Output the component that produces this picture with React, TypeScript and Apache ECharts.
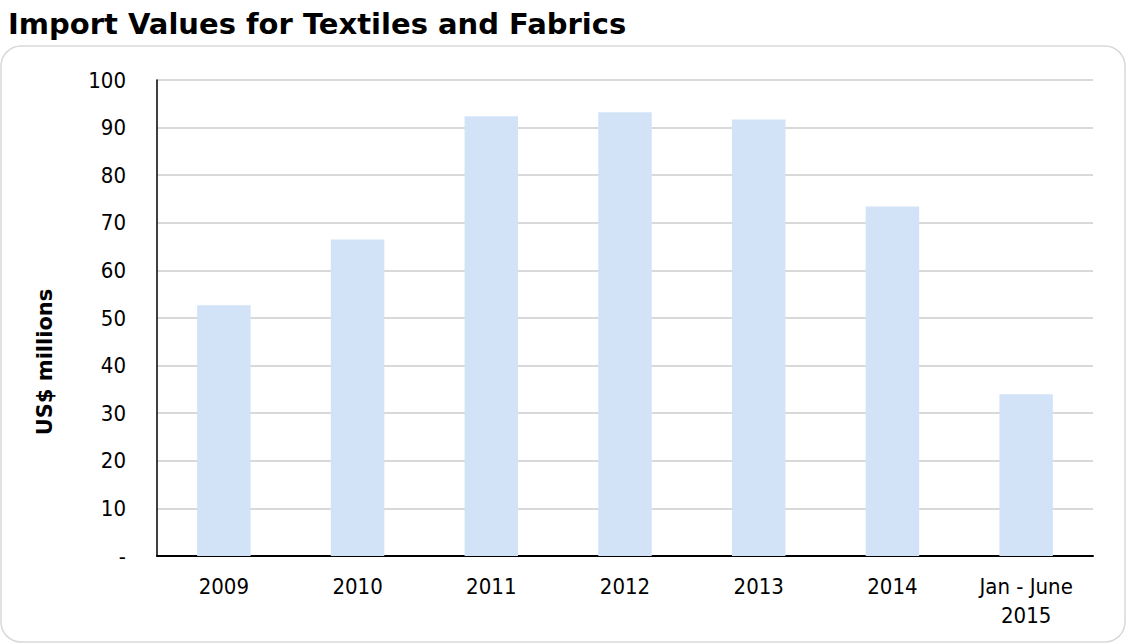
import React, { useEffect, useRef } from "react";
import * as echarts from "echarts";

const categories = ["2009", "2010", "2011", "2012", "2013", "2014", "Jan - June\n2015"];
const importValues = [52.7, 66.5, 92.4, 93.2, 91.7, 73.4, 34.0];
const yTicks = [0, 10, 20, 30, 40, 50, 60, 70, 80, 90, 100];

const FONT = '"DejaVu Sans Condensed", "DejaVu Sans", sans-serif';
const BOLD_FONT = '"DejaVu Sans", sans-serif';

export default function App() {
  const ref = useRef<HTMLDivElement>(null);
  useEffect(() => {
    if (!ref.current) return;
    const chart = echarts.init(ref.current, null, { renderer: "svg" });
    chart.setOption({
      animation: false,
      backgroundColor: "#ffffff",
      title: {
        text: "Import Values for Textiles and Fabrics",
        left: 8,
        top: 9,
        padding: 0,
        textStyle: { fontFamily: BOLD_FONT, fontSize: 29, fontWeight: "bold", color: "#000" },
      },
      graphic: [
        {
          type: "rect",
          shape: { x: 1, y: 46, width: 1124, height: 596, r: 20 },
          style: { fill: "none", stroke: "#d9d9d9", lineWidth: 1.5 },
          silent: true,
          z: -1,
        },
        {
          type: "text",
          x: 45,
          y: 362,
          rotation: Math.PI / 2,
          style: {
            text: "US$ millions",
            fontFamily: BOLD_FONT,
            fontSize: 21,
            fontWeight: "bold",
            fill: "#000",
            align: "center",
            verticalAlign: "middle",
          },
        },
      ],
      grid: { left: 157, right: 33, top: 80, bottom: 88, containLabel: false },
      xAxis: {
        type: "category",
        data: categories,
        axisLine: { show: true, lineStyle: { color: "#000", width: 2 } },
        axisTick: { show: false },
        axisLabel: {
          fontFamily: FONT,
          fontSize: 22,
          color: "#000",
          margin: 16,
          lineHeight: 29,
          interval: 0,
        },
      },
      yAxis: {
        type: "value",
        min: yTicks[0],
        max: yTicks[yTicks.length - 1],
        interval: 10,
        axisLine: { show: true, lineStyle: { color: "#000", width: 1.5 } },
        axisTick: { show: false },
        splitLine: { show: true, lineStyle: { color: "#d9d9d9", width: 2 } },
        axisLabel: {
          fontFamily: FONT,
          fontSize: 22,
          color: "#000",
          margin: 31,
          formatter: (v: number) => (v === 0 ? "-" : String(v)),
        },
      },
      series: [
        {
          type: "bar",
          data: importValues,
          barWidth: "40%",
          itemStyle: { color: "#d2e3f8" },
        },
      ],
    });
    return () => chart.dispose();
  }, []);
  return (
    <div
      ref={ref}
      style={{ position: "fixed", left: 0, top: 0, width: 1126, height: 644 }}
    />
  );
}
